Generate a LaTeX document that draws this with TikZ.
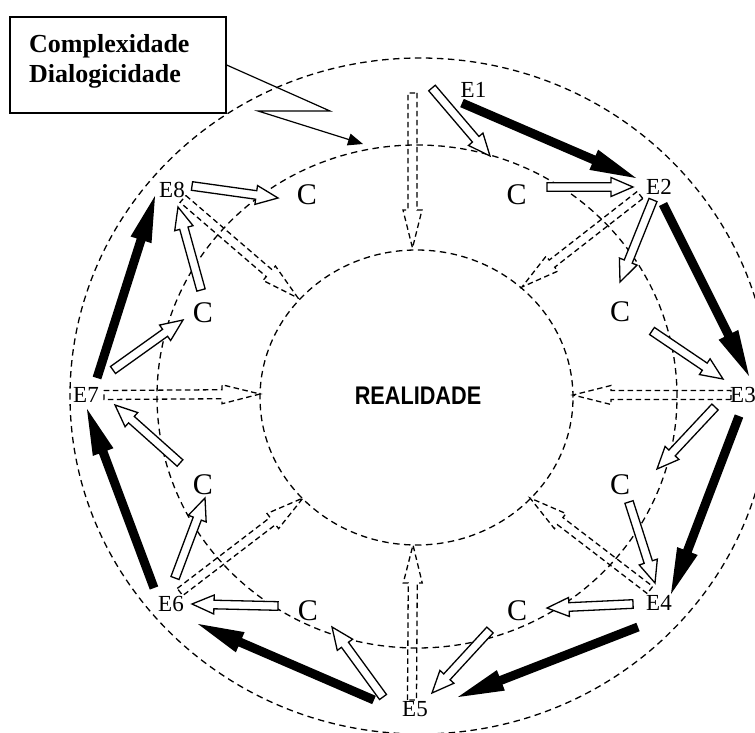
\documentclass[tikz,border=0pt]{standalone}
\usepackage{fontspec}
\setmainfont{Liberation Serif}
\newfontfamily\arialfont{Liberation Sans}
\usetikzlibrary{calc,arrows.meta}

% block arrow: #1 style, #2 start, #3 tip, #4 shaft half width, #5 head half width, #6 head length
\newcommand\barrow[6]{%
  \coordinate (hb) at ($(#3)!#6!(#2)$);
  \path[#1] ($(#2)!#4!90:(#3)$) -- ($(hb)!#4!90:(#3)$) -- ($(hb)!#5!90:(#3)$) -- (#3)
    -- ($(hb)!#5!-90:(#3)$) -- ($(hb)!#4!-90:(#3)$) -- ($(#2)!#4!-90:(#3)$) -- cycle;}

\tikzset{
  ring/.style={draw=black, line width=1.3pt, dash pattern=on 6.5pt off 4.5pt},
  blackarr/.style={fill=black},
  whitearr/.style={draw=black, fill=white, line width=1.3pt, line join=miter},
  dasharr/.style={draw=black, line width=1.3pt, dash pattern=on 5.5pt off 3.5pt},
  elab/.style={inner sep=0pt, font=\fontsize{23}{23}\selectfont},
  clab/.style={inner sep=0pt, font=\fontsize{30}{30}\selectfont},
  boxlab/.style={inner sep=0pt, anchor=base west, font=\fontsize{26}{30}\selectfont\bfseries},
}

\begin{document}
\begin{tikzpicture}[x=1pt,y=-1pt]
\useasboundingbox (0,0) rectangle (755,733);

% rings
\draw[ring] (420,396) ellipse [x radius=350pt, y radius=338pt];
\draw[ring] (417,396.5) ellipse [x radius=260pt, y radius=251.5pt];
\draw[ring] (416.5,397.5) ellipse [x radius=156.5pt, y radius=147.5pt];

\node[inner sep=0pt] (real) at (418,396)
  {\scalebox{0.85}[1]{\arialfont\bfseries\fontsize{25.5}{25.5}\selectfont REALIDADE}};

% E nodes
\node[elab] (E1) at (473.5,90) {E1};
\node[elab] (E2) at (659,187) {E2};
\node[elab] (E3) at (743,395) {E3};
\node[elab] (E4) at (659,603) {E4};
\node[elab] (E5) at (415,709.5) {E5};
\node[elab] (E6) at (171,604) {E6};
\node[elab] (E7) at (86,395) {E7};
\node[elab] (E8) at (172,190) {E8};

% C nodes
\node[clab] (C1) at (516.5,195) {C};
\node[clab] (C2) at (620,312) {C};
\node[clab] (C3) at (620,485) {C};
\node[clab] (C4) at (517,611) {C};
\node[clab] (C5) at (308,611) {C};
\node[clab] (C6) at (203,485) {C};
\node[clab] (C7) at (203,313) {C};
\node[clab] (C8) at (307,195) {C};

% dashed arrows towards reality
\coordinate (d1s) at (412.5,93);  \coordinate (d1t) at (412.5,248);
\coordinate (d2s) at (640,195);   \coordinate (d2t) at (522,287);
\coordinate (d3s) at (731,395);   \coordinate (d3t) at (573,395);
\coordinate (d4s) at (650,590);   \coordinate (d4t) at (530,498);
\coordinate (d5s) at (412,700);   \coordinate (d5t) at (413,545);
\coordinate (d6s) at (180,592);   \coordinate (d6t) at (303,498);
\coordinate (d7s) at (104,395);   \coordinate (d7t) at (260,394);
\coordinate (d8s) at (183,199);   \coordinate (d8t) at (298,298);
\barrow{dasharr}{d1s}{d1t}{4.5pt}{9.5pt}{38pt}
\barrow{dasharr}{d2s}{d2t}{4.5pt}{9.5pt}{38pt}
\barrow{dasharr}{d3s}{d3t}{4.5pt}{9.5pt}{38pt}
\barrow{dasharr}{d4s}{d4t}{4.5pt}{9.5pt}{38pt}
\barrow{dasharr}{d5s}{d5t}{4.5pt}{9.5pt}{38pt}
\barrow{dasharr}{d6s}{d6t}{4.5pt}{9.5pt}{38pt}
\barrow{dasharr}{d7s}{d7t}{4.5pt}{9.5pt}{38pt}
\barrow{dasharr}{d8s}{d8t}{4.5pt}{9.5pt}{38pt}

% white arrows between E and C
\coordinate (w1s) at (432,88);   \coordinate (w1t) at (490,156);
\coordinate (w2s) at (547,187);  \coordinate (w2t) at (633,187);
\coordinate (w3s) at (653,200);  \coordinate (w3t) at (620,282);
\coordinate (w4s) at (652,331);  \coordinate (w4t) at (723,379);
\coordinate (w5s) at (715,407);  \coordinate (w5t) at (657,469);
\coordinate (w6s) at (629,502);  \coordinate (w6t) at (655,583);
\coordinate (w7s) at (633,604);  \coordinate (w7t) at (547,608);
\coordinate (w8s) at (490,630);  \coordinate (w8t) at (432,693);
\coordinate (w9s) at (383,697);  \coordinate (w9t) at (332,627);
\coordinate (w10s) at (278,606); \coordinate (w10t) at (192,604);
\coordinate (w11s) at (175,578); \coordinate (w11t) at (205,498);
\coordinate (w12s) at (180,463); \coordinate (w12t) at (115,405);
\coordinate (w13s) at (113,370); \coordinate (w13t) at (183,320);
\coordinate (w14s) at (201,290); \coordinate (w14t) at (178,207);
\coordinate (w15s) at (192,186); \coordinate (w15t) at (278,198);
\foreach \i in {1,...,15}{\barrow{whitearr}{w\i s}{w\i t}{4.3pt}{9.5pt}{22pt}}

% black arrows along the outer ring
\coordinate (b1s) at (462,103);  \coordinate (b1t) at (636,178);
\coordinate (b2s) at (663,204);  \coordinate (b2t) at (749,376);
\coordinate (b3s) at (739,416);  \coordinate (b3t) at (671,594);
\coordinate (b4s) at (638,627);  \coordinate (b4t) at (458,697);
\coordinate (b5s) at (374,700);  \coordinate (b5t) at (198,624);
\coordinate (b6s) at (154,588);  \coordinate (b6t) at (87,409);
\coordinate (b7s) at (97,378);   \coordinate (b7t) at (155,196);
\foreach \i in {1,...,7}{\barrow{blackarr}{b\i s}{b\i t}{4.5pt}{11pt}{46pt}}

% callout
\node[draw=black, line width=1.3pt, minimum width=216pt, minimum height=96pt, inner sep=0pt]
  (box) at (118,65) {};
\node[boxlab] (t1) at (29,53) {Complexidade};
\node[boxlab] (t2) at (29,83) {Dialogicidade};
\coordinate (z1) at (330,111);
\coordinate (z2) at (258,111);
\coordinate (ct) at (363,144);
\draw[line width=1.2pt, line join=miter, -{Triangle[length=15pt,width=12pt]}]
  (box.east) -- (z1) -- (z2) -- (ct);
\end{tikzpicture}
\end{document}
